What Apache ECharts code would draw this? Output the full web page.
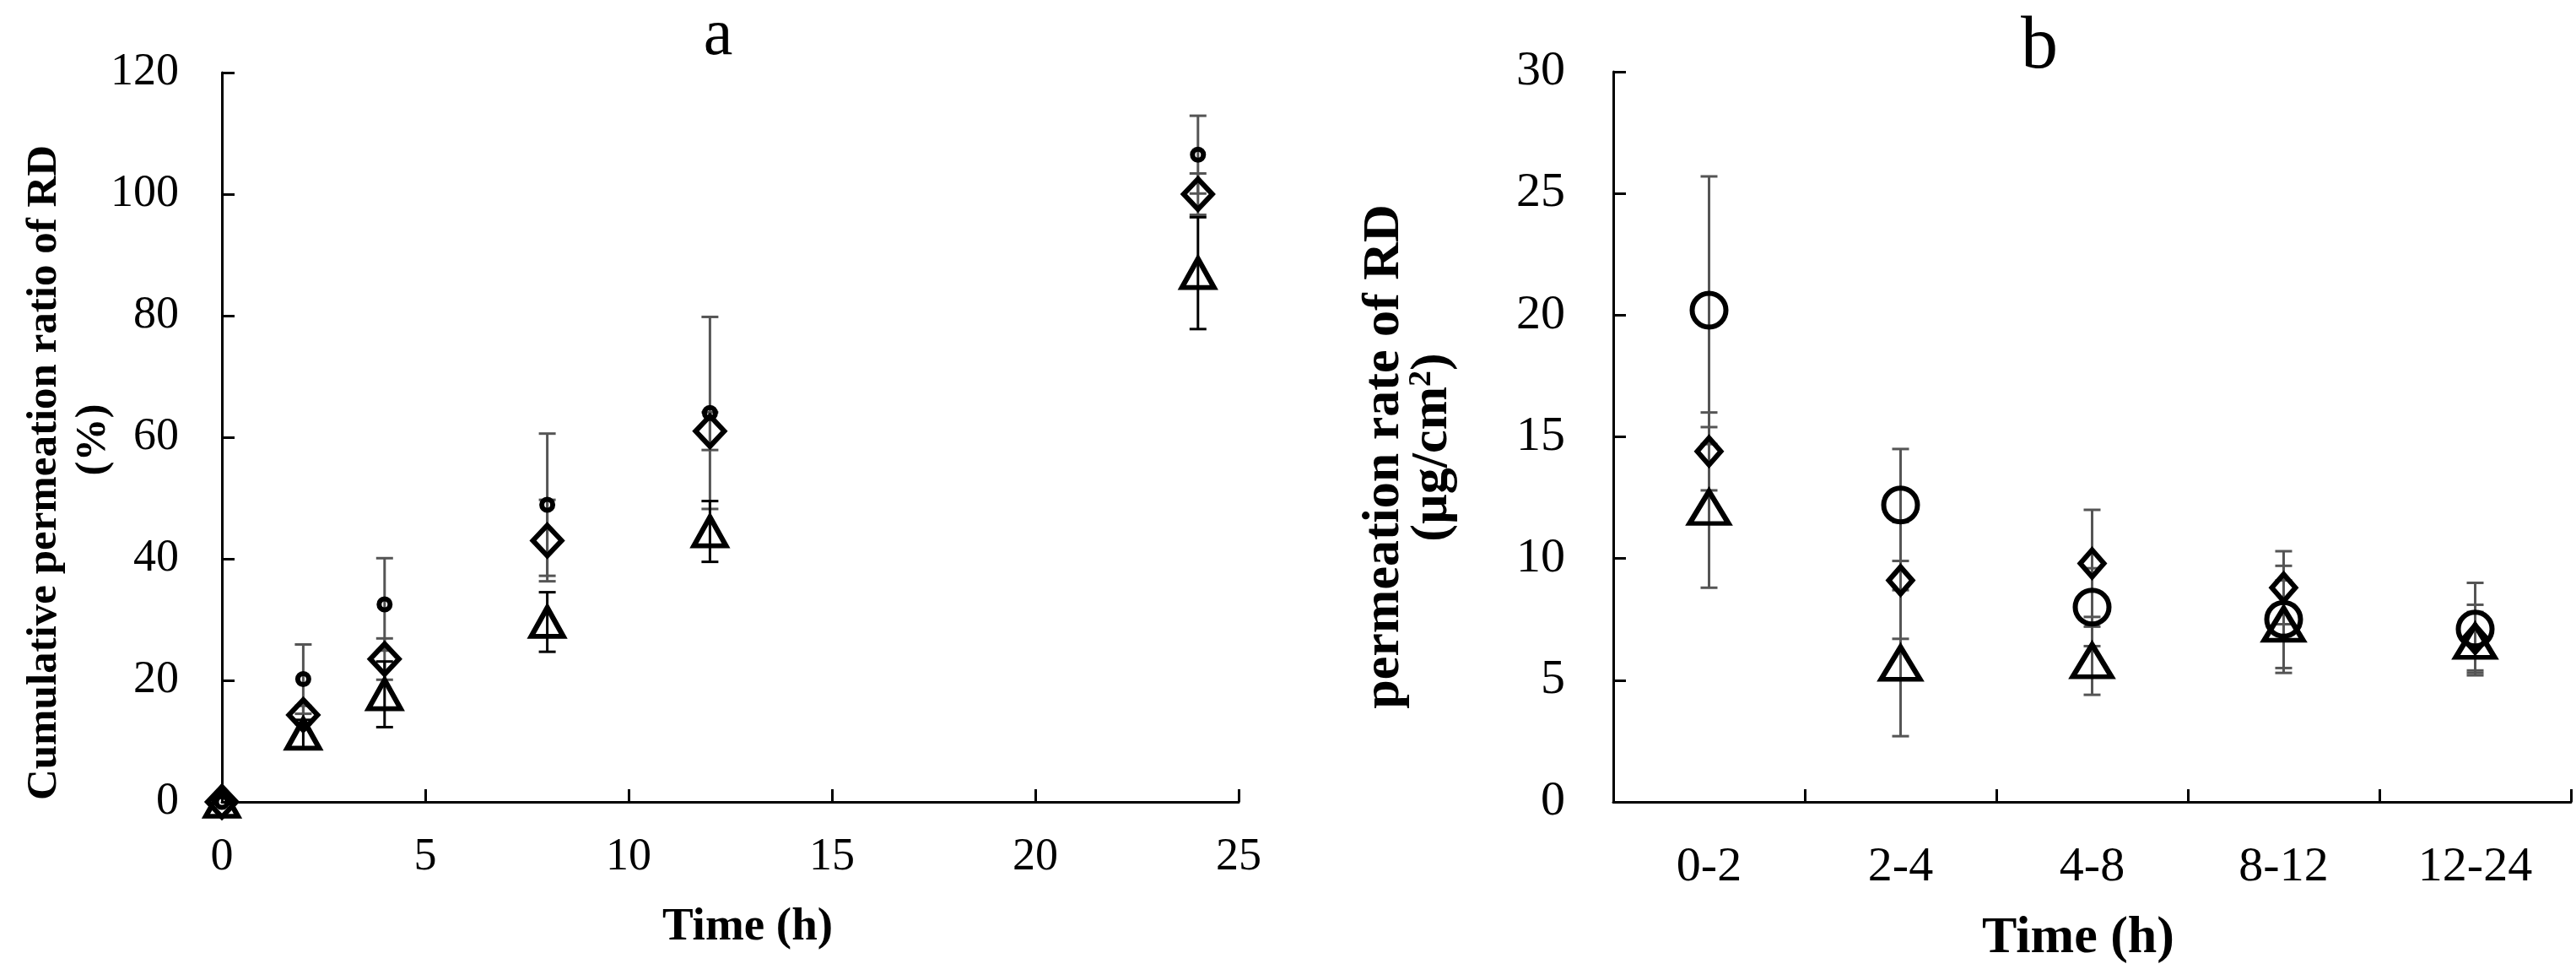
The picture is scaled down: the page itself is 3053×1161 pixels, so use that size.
<!DOCTYPE html>
<html>
<head>
<meta charset="utf-8">
<script src="https://cdn.jsdelivr.net/npm/echarts@6/dist/echarts.min.js"></script>
<style>
  html, body { margin: 0; padding: 0; background: #fff; }
  #main { width: 3053px; height: 1161px; }
</style>
</head>
<body>
<div id="main"></div>
<script>
// panel a: cumulative permeation ratio (%)
const timesA = [0, 2, 4, 8, 12, 24];
const circleA = [0, 20.2, 32.5, 48.9, 64.0, 106.5];
const circleSdA = [0, 5.7, 7.6, 11.7, 15.8, 6.4];
const diamondA = [0, 14.3, 23.5, 43.0, 61.0, 100.0];
const diamondSdA = [0, 1.5, 3.4, 6.7, 3.1, 3.4];
const triangleA = [0, 11.2, 17.7, 29.6, 44.5, 87.0];
const triangleSdA = [0, 2.3, 5.4, 4.9, 5.0, 9.2];

// panel b: permeation rate (ug/cm2) per interval
const intervalsB = ["0-2", "2-4", "4-8", "8-12", "12-24"];
const circleB = [20.2, 12.2, 8.0, 7.5, 7.1];
const circleSdB = [5.5, 2.3, 1.6, 2.2, 1.9];
const diamondB = [14.4, 9.1, 9.8, 8.8, 6.7];
const diamondSdB = [1.6, 2.4, 2.2, 1.5, 1.4];
const triangleB = [12.1, 5.7, 5.8, 7.3, 6.6];
const triangleSdB = [3.3, 3.0, 1.4, 1.8, 1.2];

const serif = '"Liberation Serif", "Times New Roman", serif';

// error bars drawn with a custom series
function errBars(color) {
  return function (params, api) {
    const x = api.value(0), m = api.value(1), s = api.value(2);
    if (!s) return null;
    const top = api.coord([x, m + s]);
    const bot = api.coord([x, m - s]);
    const w = 10;
    const st = { stroke: color, lineWidth: 3 };
    return {
      type: "group",
      children: [
        { type: "line", shape: { x1: top[0], y1: top[1], x2: bot[0], y2: bot[1] }, style: st },
        { type: "line", shape: { x1: top[0] - w, y1: top[1], x2: top[0] + w, y2: top[1] }, style: st },
        { type: "line", shape: { x1: bot[0] - w, y1: bot[1], x2: bot[0] + w, y2: bot[1] }, style: st }
      ]
    };
  };
}

function pairs(xs, ys, sds) {
  return ys.map((v, i) => sds ? [xs[i], v, sds[i]] : [xs[i], v]);
}
const idxB = intervalsB.map((c, i) => i);

function errSeries(gi, xs, ys, sds, color) {
  return {
    type: "custom", xAxisIndex: gi, yAxisIndex: gi, z: 1,
    renderItem: errBars(color),
    encode: { x: 0, y: 1 },
    data: pairs(xs, ys, sds)
  };
}
function markSeries(gi, xs, ys, symbol, size, bw) {
  return {
    type: "scatter", xAxisIndex: gi, yAxisIndex: gi, z: 3,
    symbol: symbol, symbolSize: size,
    itemStyle: { color: "rgba(0,0,0,0)", borderColor: "#000", borderWidth: bw, opacity: 1 },
    data: pairs(xs, ys)
  };
}

const axisLine = { show: true, lineStyle: { color: "#000", width: 3 } };
const tick = { show: true, inside: true, length: 15, lineStyle: { color: "#000", width: 3 } };

let myChart = echarts.init(document.getElementById("main"));
let option = {
  animation: false,
  backgroundColor: "#fff",
  grid: [
    { left: 263, top: 86, width: 1205, height: 864 },
    { left: 1912, top: 85, width: 1135, height: 865 }
  ],
  xAxis: [
    {
      gridIndex: 0, type: "value", min: 0, max: 25, interval: 5,
      axisLine: axisLine, axisTick: tick, splitLine: { show: false },
      axisLabel: { fontFamily: serif, fontSize: 54, color: "#000", margin: 39 }
    },
    {
      gridIndex: 1, type: "category", data: intervalsB, boundaryGap: true,
      axisLine: axisLine, axisTick: Object.assign({ interval: 0 }, tick), splitLine: { show: false },
      axisLabel: { fontFamily: serif, fontSize: 58, color: "#000", margin: 49, interval: 0 }
    }
  ],
  yAxis: [
    {
      gridIndex: 0, type: "value", min: 0, max: 120, interval: 20,
      axisLine: axisLine, axisTick: tick, splitLine: { show: false },
      axisLabel: { fontFamily: serif, fontSize: 54, color: "#000", margin: 51 }
    },
    {
      gridIndex: 1, type: "value", min: 0, max: 30, interval: 5,
      axisLine: axisLine, axisTick: tick, splitLine: { show: false },
      axisLabel: { fontFamily: serif, fontSize: 58, color: "#000", margin: 57 }
    }
  ],
  graphic: [
    { type: "text", x: 851, y: 44, style: { text: "a", font: "78px " + serif, fill: "#000", align: "center", verticalAlign: "middle" } },
    { type: "text", x: 2417, y: 57, style: { text: "b", font: "88px " + serif, fill: "#000", align: "center", verticalAlign: "middle" } },
    { type: "text", x: 886, y: 1099, style: { text: "Time (h)", font: "bold 55px " + serif, fill: "#000", align: "center", verticalAlign: "middle" } },
    { type: "text", x: 2463, y: 1112, style: { text: "Time (h)", font: "bold 62px " + serif, fill: "#000", align: "center", verticalAlign: "middle" } },
    { type: "text", x: 53, y: 560, rotation: Math.PI / 2, style: { text: "Cumulative permeation ratio of RD", font: "bold 51px " + serif, fill: "#000", align: "center", verticalAlign: "middle" } },
    { type: "text", x: 111, y: 521, rotation: Math.PI / 2, style: { text: "(%)", font: "bold 51px " + serif, fill: "#000", align: "center", verticalAlign: "middle" } },
    { type: "text", x: 1641, y: 541, rotation: Math.PI / 2, style: { text: "permeation rate of RD", font: "bold 62px " + serif, fill: "#000", align: "center", verticalAlign: "middle" } },
    {
      type: "text", x: 1698, y: 530, rotation: Math.PI / 2,
      style: {
        text: "{n|(µg/cm}{s|2}{n|)}", align: "center", verticalAlign: "middle",
        rich: {
          n: { font: "bold 62px " + serif, fill: "#000", color: "#000" },
          s: { font: "bold 38px " + serif, fill: "#000", color: "#000", verticalAlign: "top", padding: [0, 0, 26, 0] }
        }
      }
    }
  ],
  series: [
    errSeries(0, timesA, circleA, circleSdA, "#555"),
    errSeries(0, timesA, diamondA, diamondSdA, "#555"),
    errSeries(0, timesA, triangleA, triangleSdA, "#000"),
    markSeries(0, timesA, circleA, "circle", 13, 6),
    markSeries(0, timesA, diamondA, "diamond", [34, 36], 6),
    markSeries(0, timesA, triangleA, "triangle", [38, 34], 6),
    errSeries(1, idxB, circleB, circleSdB, "#555"),
    errSeries(1, idxB, diamondB, diamondSdB, "#555"),
    errSeries(1, idxB, triangleB, triangleSdB, "#555"),
    markSeries(1, idxB, circleB, "circle", 40, 6),
    markSeries(1, idxB, diamondB, "diamond", [28, 32], 6),
    markSeries(1, idxB, triangleB, "triangle", [46, 38], 6)
  ]
};
myChart.setOption(option);
</script>
</body>
</html>
